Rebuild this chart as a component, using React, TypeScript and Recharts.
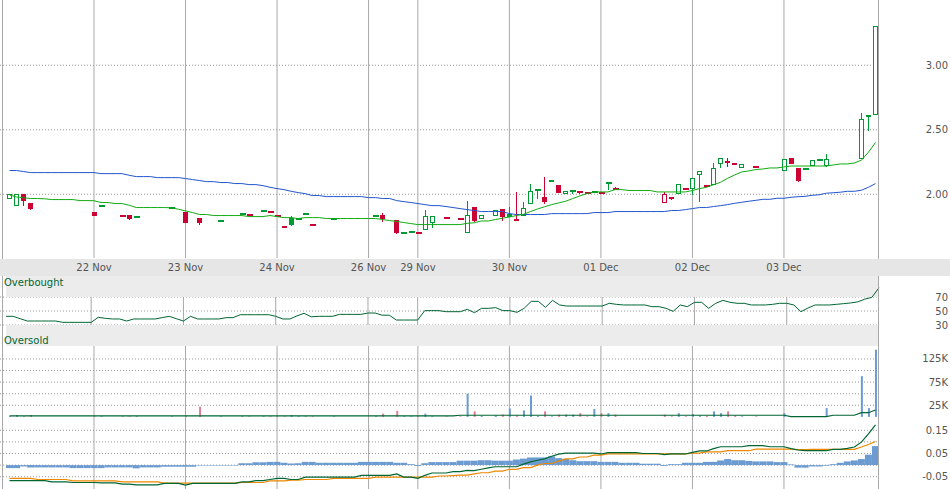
import { ComposedChart, Bar, Line, XAxis, YAxis, CartesianGrid, ReferenceArea, Cell } from "recharts";

const GREEN = "#009933";
const RED = "#cc0033";

// first bar of each session and its label
const dayStarts = [12, 25, 38, 51, 58, 71, 84, 97, 110];
const dayLabels = ["22 Nov", "23 Nov", "24 Nov", "26 Nov", "29 Nov", "30 Nov", "01 Dec", "02 Dec", "03 Dec"];

// [bar, open, high, low, close, volume] — bars with no trades are left out
const candles: [number, number, number, number, number, number][] = [
  [0, 1.967, 2.005, 1.967, 2.005, 1500],
  [1, 1.912, 2.005, 1.912, 2.005, 4000],
  [2, 2.0, 2.0, 1.91, 1.948, 1500],
  [3, 1.93, 1.93, 1.876, 1.884, 4000],
  [12, 1.86, 1.86, 1.83, 1.835, 1500],
  [13, 1.912, 1.912, 1.912, 1.912, 1500],
  [16, 1.835, 1.835, 1.835, 1.835, 1500],
  [17, 1.837, 1.837, 1.8, 1.809, 1500],
  [18, 1.827, 1.827, 1.827, 1.827, 1500],
  [23, 1.894, 1.894, 1.886, 1.886, 1500],
  [25, 1.859, 1.859, 1.778, 1.778, 1500],
  [27, 1.814, 1.814, 1.762, 1.776, 22000],
  [30, 1.796, 1.796, 1.796, 1.796, 1500],
  [33, 1.85, 1.85, 1.845, 1.845, 1500],
  [34, 1.842, 1.842, 1.842, 1.842, 1500],
  [36, 1.874, 1.874, 1.874, 1.874, 1500],
  [37, 1.866, 1.866, 1.866, 1.866, 1500],
  [38, 1.829, 1.829, 1.824, 1.824, 1500],
  [39, 1.74, 1.757, 1.74, 1.757, 1500],
  [40, 1.819, 1.828, 1.752, 1.762, 4000],
  [41, 1.808, 1.808, 1.798, 1.798, 1500],
  [42, 1.85, 1.85, 1.85, 1.85, 1500],
  [43, 1.765, 1.765, 1.765, 1.765, 1500],
  [46, 1.806, 1.806, 1.801, 1.801, 1500],
  [52, 1.835, 1.835, 1.835, 1.835, 1500],
  [53, 1.837, 1.853, 1.785, 1.806, 7000],
  [55, 1.798, 1.798, 1.692, 1.7, 13000],
  [56, 1.7, 1.705, 1.7, 1.7, 1500],
  [57, 1.705, 1.705, 1.705, 1.705, 1500],
  [58, 1.698, 1.698, 1.698, 1.698, 1500],
  [59, 1.723, 1.876, 1.723, 1.829, 7000],
  [60, 1.778, 1.835, 1.739, 1.835, 1500],
  [62, 1.814, 1.814, 1.814, 1.814, 1500],
  [64, 1.812, 1.812, 1.802, 1.812, 1500],
  [65, 1.703, 1.944, 1.703, 1.843, 50000],
  [66, 1.899, 1.899, 1.783, 1.793, 12000],
  [67, 1.812, 1.843, 1.812, 1.843, 2000],
  [69, 1.835, 1.878, 1.835, 1.878, 3000],
  [70, 1.884, 1.884, 1.793, 1.827, 5000],
  [71, 1.847, 1.902, 1.827, 1.827, 18000],
  [72, 1.793, 2.016, 1.793, 1.812, 3000],
  [73, 1.835, 1.938, 1.835, 1.897, 14000],
  [74, 1.928, 2.078, 1.928, 2.029, 46000],
  [75, 2.036, 2.036, 1.961, 2.036, 2000],
  [76, 1.977, 2.132, 1.925, 1.938, 12000],
  [77, 2.109, 2.109, 2.095, 2.095, 1500],
  [78, 2.07, 2.07, 2.01, 2.01, 5000],
  [79, 2.005, 2.029, 2.005, 2.029, 5000],
  [80, 2.029, 2.029, 2.002, 2.029, 5000],
  [81, 2.021, 2.021, 2.0, 2.021, 8000],
  [82, 2.01, 2.01, 2.01, 2.01, 1500],
  [83, 2.018, 2.018, 2.013, 2.018, 17000],
  [84, 2.013, 2.013, 2.013, 2.013, 8000],
  [85, 2.084, 2.084, 2.036, 2.076, 8000],
  [86, 2.044, 2.057, 2.044, 2.044, 5000],
  [93, 1.936, 2.018, 1.936, 2.0, 5000],
  [94, 1.982, 1.982, 1.956, 1.964, 1500],
  [95, 2.005, 2.077, 2.005, 2.077, 8000],
  [96, 2.044, 2.044, 2.044, 2.044, 1500],
  [97, 2.039, 2.129, 1.997, 2.129, 6000],
  [98, 2.146, 2.184, 1.94, 2.184, 3000],
  [99, 2.062, 2.062, 2.062, 2.062, 2000],
  [100, 2.075, 2.246, 2.075, 2.207, 12000],
  [101, 2.233, 2.284, 2.207, 2.284, 8000],
  [102, 2.258, 2.284, 2.212, 2.243, 12000],
  [103, 2.24, 2.245, 2.227, 2.227, 3000],
  [104, 2.207, 2.238, 2.207, 2.238, 1500],
  [106, 2.209, 2.209, 2.209, 2.209, 1500],
  [110, 2.184, 2.277, 2.184, 2.277, 8000],
  [111, 2.279, 2.279, 2.233, 2.233, 1500],
  [112, 2.202, 2.202, 2.093, 2.101, 1500],
  [113, 2.194, 2.2, 2.194, 2.194, 1500],
  [114, 2.222, 2.266, 2.222, 2.266, 1500],
  [115, 2.269, 2.277, 2.269, 2.269, 1500],
  [116, 2.221, 2.31, 2.212, 2.277, 19000],
  [121, 2.274, 2.628, 2.274, 2.587, 88000],
  [122, 2.618, 2.618, 2.488, 2.6, 19000],
  [123, 2.618, 3.302, 2.618, 3.302, 145000],
];

const maFast = [
  1.995, 1.979, 1.973, 1.967, 1.967, 1.965, 1.959, 1.959, 1.959, 1.959,
  1.951, 1.951, 1.95, 1.936, 1.936, 1.928, 1.928, 1.915, 1.897, 1.897,
  1.897, 1.897, 1.897, 1.895, 1.884, 1.871, 1.858, 1.843, 1.843, 1.835,
  1.835, 1.835, 1.835, 1.835, 1.827, 1.827, 1.827, 1.835, 1.827, 1.819,
  1.819, 1.812, 1.819, 1.819, 1.819, 1.812, 1.812, 1.812, 1.812, 1.812,
  1.812, 1.812, 1.812, 1.804, 1.796, 1.789, 1.781, 1.773, 1.765, 1.765,
  1.765, 1.765, 1.765, 1.765, 1.765, 1.775, 1.779, 1.793, 1.793, 1.804,
  1.814, 1.824, 1.835, 1.845, 1.866, 1.886, 1.903, 1.92, 1.933, 1.946,
  1.967, 1.987, 2.005, 2.018, 2.018, 2.018, 2.036, 2.036, 2.029, 2.029,
  2.029, 2.029, 2.018, 2.018, 2.018, 2.018, 2.018, 2.029, 2.044, 2.054,
  2.074, 2.093, 2.124, 2.15, 2.173, 2.181, 2.192, 2.196, 2.204, 2.204,
  2.212, 2.219, 2.219, 2.219, 2.219, 2.219, 2.219, 2.227, 2.235, 2.235,
  2.243, 2.264, 2.326, 2.401,
];

const maSlow = [
  2.184, 2.184, 2.176, 2.168, 2.168, 2.168, 2.168, 2.168, 2.168, 2.168,
  2.168, 2.168, 2.168, 2.16, 2.16, 2.16, 2.16, 2.147, 2.137, 2.137,
  2.137, 2.129, 2.129, 2.129, 2.129, 2.122, 2.114, 2.106, 2.098, 2.098,
  2.091, 2.091, 2.083, 2.083, 2.075, 2.075, 2.067, 2.054, 2.044, 2.036,
  2.023, 2.013, 2.005, 1.99, 1.99, 1.982, 1.982, 1.982, 1.982, 1.982,
  1.982, 1.974, 1.974, 1.967, 1.967, 1.951, 1.943, 1.936, 1.928, 1.92,
  1.912, 1.912, 1.905, 1.897, 1.889, 1.881, 1.874, 1.866, 1.866, 1.866,
  1.866, 1.85, 1.843, 1.843, 1.843, 1.843, 1.843, 1.85, 1.85, 1.85,
  1.85, 1.85, 1.85, 1.858, 1.858, 1.858, 1.866, 1.866, 1.866, 1.866,
  1.866, 1.866, 1.866, 1.866, 1.874, 1.874, 1.881, 1.889, 1.897, 1.897,
  1.905, 1.912, 1.92, 1.93, 1.938, 1.946, 1.953, 1.961, 1.961, 1.969,
  1.969, 1.977, 1.981, 1.984, 1.992, 1.996, 2.008, 2.012, 2.016, 2.023,
  2.023, 2.031, 2.054, 2.083,
];

const rsi = [
  42.4, 42.4, 39, 35.7, 35.7, 35.7, 35.7, 35.7, 33.8, 33.8,
  33.8, 33.8, 33.8, 41, 39.5, 38.6, 38.6, 35.7, 38.6, 38.6,
  38.6, 38.6, 40.5, 42.4, 39, 35.7, 42.4, 38.6, 38.6, 38.6,
  38.6, 40.5, 40.5, 44.7, 44.7, 44.7, 44.7, 44.7, 42.4, 38.6,
  38.6, 43, 46.7, 41.7, 42.4, 42.4, 42.4, 45.2, 45.2, 45.2,
  45.2, 47.1, 47.1, 44, 44, 37.1, 37.1, 37.1, 37.1, 50.5,
  50.5, 50.5, 49, 49, 49, 52.4, 47.6, 53.8, 53.8, 54.8,
  50.5, 50.5, 48.1, 53.8, 63.8, 63.8, 55.2, 65.2, 58.6, 57.1,
  57.1, 57.1, 57.1, 57.1, 57.1, 61, 59.5, 58.6, 58.6, 58.6,
  58.6, 56.2, 56.2, 53.8, 49.5, 58.6, 56.2, 62.4, 62.4, 53.8,
  61, 65.2, 62.4, 61, 61, 58.6, 58.6, 58.6, 59.5, 61,
  61, 58.6, 49, 54.3, 58.6, 58.6, 58.6, 59.5, 60.5, 61.5,
  63, 67, 69.5, 83.3,
];

const volAvg = [
  2000, 2000, 2000, 2000, 2000, 2000, 2000, 2000, 2000, 2000,
  2000, 2000, 2000, 2000, 2000, 2000, 2000, 2000, 2000, 2000,
  2000, 2000, 2000, 2000, 2000, 2000, 2000, 2000, 2000, 2000,
  2000, 2000, 2000, 2000, 2000, 2000, 2000, 2000, 2000, 2000,
  2000, 2000, 2000, 2000, 2000, 2000, 2000, 2000, 2000, 2000,
  2000, 2000, 2000, 2000, 2000, 2000, 2000, 2000, 2000, 2000,
  2000, 2000, 2000, 2000, 3500, 3500, 3500, 3500, 3500, 3500,
  3500, 3500, 3500, 3500, 3500, 3500, 3500, 3500, 3500, 3500,
  3500, 3500, 3500, 3500, 3500, 3500, 3500, 3500, 3500, 3500,
  3500, 3500, 3500, 3500, 3500, 3500, 3500, 3500, 3500, 3500,
  3500, 3500, 3500, 3500, 3500, 3500, 3500, 3500, 3500, 3500,
  3500, 500, 500, 500, 500, 500, 500, 3500, 3500, 3500,
  3500, 9000, 9000, 15000,
];

const macd = [
  -0.067, -0.067, -0.067, -0.067, -0.067, -0.067, -0.072, -0.072, -0.072, -0.075,
  -0.075, -0.075, -0.075, -0.077, -0.077, -0.077, -0.082, -0.082, -0.085, -0.085,
  -0.085, -0.085, -0.079, -0.079, -0.079, -0.086, -0.079, -0.079, -0.079, -0.079,
  -0.079, -0.079, -0.079, -0.072, -0.072, -0.067, -0.067, -0.062, -0.057, -0.057,
  -0.062, -0.062, -0.052, -0.052, -0.052, -0.052, -0.052, -0.052, -0.052, -0.052,
  -0.044, -0.044, -0.044, -0.044, -0.044, -0.038, -0.052, -0.052, -0.057, -0.044,
  -0.034, -0.034, -0.034, -0.028, -0.028, -0.023, -0.024, -0.018, -0.012, -0.007,
  -0.007, -0.007, -0.007, 0.004, 0.014, 0.021, 0.027, 0.038, 0.047, 0.052,
  0.052, 0.052, 0.052, 0.052, 0.048, 0.054, 0.054, 0.054, 0.054, 0.054,
  0.05, 0.05, 0.05, 0.045, 0.048, 0.048, 0.048, 0.055, 0.061, 0.061,
  0.071, 0.079, 0.079, 0.079, 0.079, 0.084, 0.084, 0.084, 0.079, 0.079,
  0.079, 0.071, 0.065, 0.062, 0.062, 0.062, 0.062, 0.068, 0.068, 0.072,
  0.078, 0.099, 0.135, 0.173,
];

const signal = [
  -0.057, -0.057, -0.057, -0.057, -0.062, -0.062, -0.062, -0.062, -0.062, -0.068,
  -0.068, -0.068, -0.068, -0.068, -0.068, -0.068, -0.072, -0.072, -0.072, -0.072,
  -0.072, -0.072, -0.078, -0.078, -0.078, -0.078, -0.078, -0.078, -0.078, -0.078,
  -0.078, -0.078, -0.078, -0.075, -0.075, -0.075, -0.075, -0.068, -0.068, -0.068,
  -0.065, -0.065, -0.062, -0.062, -0.062, -0.062, -0.057, -0.057, -0.057, -0.057,
  -0.057, -0.057, -0.052, -0.052, -0.052, -0.052, -0.052, -0.052, -0.052, -0.052,
  -0.052, -0.047, -0.047, -0.045, -0.043, -0.043, -0.038, -0.033, -0.033, -0.026,
  -0.026, -0.018, -0.018, -0.011, -0.011, 0, 0.007, 0.007, 0.017, 0.027,
  0.027, 0.035, 0.035, 0.043, 0.043, 0.048, 0.048, 0.048, 0.048, 0.048,
  0.048, 0.048, 0.048, 0.048, 0.048, 0.048, 0.048, 0.052, 0.052, 0.057,
  0.057, 0.057, 0.062, 0.062, 0.062, 0.062, 0.069, 0.069, 0.069, 0.069,
  0.069, 0.069, 0.067, 0.067, 0.068, 0.068, 0.068, 0.068, 0.068, 0.068,
  0.068, 0.078, 0.089, 0.102,
];

const histogram = [
  -0.013, -0.013, -0.006, -0.01, -0.01, -0.01, -0.01, -0.01, -0.01, -0.013,
  -0.013, -0.013, -0.013, -0.013, -0.01, -0.01, -0.01, -0.01, -0.014, -0.01,
  -0.01, -0.01, -0.007, -0.007, -0.007, -0.007, -0.007, -0.002, -0.002, -0.002,
  -0.002, -0.002, -0.002, 0.008, 0.008, 0.012, 0.012, 0.014, 0.014, 0.01,
  0.007, 0.008, 0.014, 0.014, 0.01, 0.01, 0.01, 0.01, 0.01, 0.01,
  0.014, 0.014, 0.014, 0.014, 0.014, 0.01, 0.01, 0.004, -0.004, 0.008,
  0.013, 0.013, 0.013, 0.013, 0.019, 0.019, 0.019, 0.021, 0.021, 0.019,
  0.019, 0.019, 0.024, 0.028, 0.033, 0.033, 0.033, 0.038, 0.03, 0.027,
  0.021, 0.017, 0.017, 0.017, 0.014, 0.014, 0.014, 0.01, 0.01, 0.01,
  0.006, 0.006, 0.006, -0.004, 0.004, 0.004, 0.01, 0.01, 0.01, 0.014,
  0.014, 0.02, 0.026, 0.021, 0.021, 0.018, 0.016, 0.016, 0.016, 0.013,
  0.013, 0.003, -0.011, -0.011, -0.006, -0.006, -0.003, 0.004, 0.01, 0.016,
  0.02, 0.026, 0.045, 0.082,
];

type Row = {
  bar: number;
  open: number | null;
  high: number | null;
  low: number | null;
  close: number | null;
  vol: number | null;
  up: boolean;
  maFast: number;
  maSlow: number;
  rsi: number;
  volAvg: number;
  macd: number;
  signal: number;
  hist: number;
};

const rows: Row[] = maFast.map((v, i) => ({
  bar: i,
  open: null,
  high: null,
  low: null,
  close: null,
  vol: null,
  up: true,
  maFast: v,
  maSlow: maSlow[i],
  rsi: rsi[i],
  volAvg: volAvg[i],
  macd: macd[i],
  signal: signal[i],
  hist: histogram[i],
}));

// colour follows the previous traded close
let prevClose: number | null = null;
for (const [bar, o, h, l, c, v] of candles) {
  const r = rows[bar];
  r.open = o;
  r.high = h;
  r.low = l;
  r.close = c;
  r.vol = v;
  r.up = prevClose == null || c >= prevClose;
  prevClose = c;
}

const FONT = "DejaVu Sans";
const LABEL = "#555";

function Candle(props: any) {
  const { x, y, width, height, payload } = props;
  if (!payload || payload.high == null) return null;
  const { open, high, low, close, up } = payload;
  const color = up ? GREEN : RED;
  const c = Math.floor(x + width / 2);
  const span = high - low;
  const at = (p: number) => Math.round(span > 0 ? y + ((high - p) / span) * height : y);
  const yH = at(high);
  const yL = at(low);
  const top = Math.min(at(open), at(close));
  const bot = Math.max(at(open), at(close));
  return (
    <g shapeRendering="crispEdges">
      {yL > yH && <line x1={c + 0.5} x2={c + 0.5} y1={yH} y2={yL} stroke={color} />}
      {bot - top < 2 ? (
        <rect x={c - 2} y={top - 1} width={6} height={2} fill={color} />
      ) : close > open ? (
        <rect x={c - 1.5} y={top + 0.5} width={4} height={bot - top - 1} fill="#fff" stroke={color} />
      ) : (
        <rect x={c - 2} y={top} width={5} height={bot - top} fill={color} />
      )}
    </g>
  );
}

const rightTick = (fmt: (v: number) => string) => (props: any) => {
  const s = fmt(props.payload.value);
  if (!s) return <g />;
  return (
    <text x={948} y={props.y} dy={3.5} textAnchor="end" fontSize={10} fontFamily={FONT} fill={LABEL}>
      {s}
    </text>
  );
};

const DayTick = (props: any) => {
  const k = dayStarts.indexOf(props.payload.value);
  return (
    <text x={props.x} y={props.y} dy={12.5} textAnchor="middle" fontSize={10} fontFamily={FONT} fill={LABEL}>
      {k >= 0 ? dayLabels[k] : ""}
    </text>
  );
};

const xPad = { left: 6, right: 0 };
const noMargin = { top: 0, right: 0, bottom: 0, left: 0 };
const pos = (top: number): React.CSSProperties => ({ position: "absolute", left: 0, top });

function HiddenX() {
  return <XAxis dataKey="bar" hide padding={xPad} ticks={dayStarts} interval={0} />;
}

function Grids() {
  return [
    <CartesianGrid key="h" vertical={false} stroke="#9a9a9a" strokeDasharray="1 2" syncWithTicks />,
    <CartesianGrid key="v" horizontal={false} stroke="#a8a8a8" syncWithTicks />,
  ];
}

export default function App() {
  return (
    <div style={{ position: "absolute", left: 0, top: 0, width: 950, height: 489, background: "#fff", overflow: "hidden", fontFamily: FONT }}>
      <div style={{ position: "absolute", left: 0, top: 259, width: 950, height: 17, background: "#e6e6e6" }} />

      {/* price */}
      <div style={pos(0)}>
        <ComposedChart width={950} height={276} data={rows} margin={noMargin}>
          {Grids()}
          <XAxis
            dataKey="bar"
            padding={xPad}
            ticks={dayStarts}
            interval={0}
            height={18}
            axisLine={false}
            tickLine={false}
            tickSize={0}
            tickMargin={0}
            tick={<DayTick />}
          />
          <YAxis
            orientation="right"
            width={71}
            domain={[1.506, 3.506]}
            ticks={[2, 2.5, 3]}
            interval={0}
            axisLine={false}
            tickLine={false}
            tickSize={0}
            tickMargin={0}
            tick={rightTick((v) => v.toFixed(2))}
          />
          <Line dataKey="maSlow" stroke="#2255cc" strokeWidth={1} dot={false} activeDot={false} isAnimationActive={false} />
          <Line dataKey="maFast" stroke="#11aa11" strokeWidth={1} dot={false} activeDot={false} isAnimationActive={false} />
          <Bar
            dataKey={(d: Row) => (d.high == null ? null : [d.low, d.high])}
            shape={<Candle />}
            isAnimationActive={false}
          />
        </ComposedChart>
      </div>

      {/* RSI */}
      <div style={pos(276)}>
        <ComposedChart width={950} height={70} data={rows} margin={noMargin}>
          <ReferenceArea y1={70} y2={100} fill="#ececec" fillOpacity={1} stroke="none" />
          <ReferenceArea y1={0} y2={30} fill="#ececec" fillOpacity={1} stroke="none" />
          {Grids()}
          {HiddenX()}
          <YAxis
            orientation="right"
            width={71}
            domain={[0, 100]}
            ticks={[30, 50, 70]}
            interval={0}
            axisLine={false}
            tickLine={false}
            tickSize={0}
            tickMargin={0}
            tick={rightTick((v) => String(v))}
          />
          <Line dataKey="rsi" stroke="#006633" strokeWidth={1} dot={false} activeDot={false} isAnimationActive={false} />
        </ComposedChart>
      </div>

      {/* volume */}
      <div style={pos(346)}>
        <ComposedChart width={950} height={72} data={rows} margin={noMargin}>
          {Grids()}
          {HiddenX()}
          <YAxis
            orientation="right"
            width={71}
            domain={[-2400, 153000]}
            ticks={[25000, 50000, 75000, 100000, 125000]}
            interval={0}
            axisLine={false}
            tickLine={false}
            tickSize={0}
            tickMargin={0}
            tick={rightTick((v) => (v % 50000 === 25000 ? `${v / 1000}K` : ""))}
          />
          <Bar dataKey="vol" barSize={2} isAnimationActive={false}>
            {rows.map((r) => (
              <Cell key={r.bar} fill={r.up ? "#6b9bd1" : "#e27d98"} />
            ))}
          </Bar>
          <Line dataKey="volAvg" stroke="#006633" strokeWidth={1.2} dot={false} activeDot={false} isAnimationActive={false} />
        </ComposedChart>
      </div>

      {/* MACD */}
      <div style={pos(418)}>
        <ComposedChart width={950} height={71} data={rows} margin={noMargin} barCategoryGap={0}>
          {Grids()}
          {HiddenX()}
          <YAxis
            orientation="right"
            width={71}
            domain={[-0.103, 0.203]}
            ticks={[-0.05, 0, 0.05, 0.1, 0.15]}
            interval={0}
            axisLine={false}
            tickLine={false}
            tickSize={0}
            tickMargin={0}
            tick={rightTick((v) => (Math.abs(v) < 1e-9 || Math.abs(v - 0.1) < 1e-9 ? "" : v.toFixed(2)))}
          />
          <Bar dataKey="hist" fill="#6b9bd1" isAnimationActive={false} />
          <Line dataKey="signal" stroke="#ee8800" strokeWidth={1.2} dot={false} activeDot={false} isAnimationActive={false} />
          <Line dataKey="macd" stroke="#006633" strokeWidth={1.2} dot={false} activeDot={false} isAnimationActive={false} />
        </ComposedChart>
      </div>

      {/* frame */}
      <div style={{ position: "absolute", left: 2, top: 0, width: 1, height: 259, background: "#a8a8a8" }} />
      <div style={{ position: "absolute", left: 2, top: 276, width: 1, height: 213, background: "#a8a8a8" }} />
      <div style={{ position: "absolute", left: 878, top: 0, width: 1, height: 259, background: "#a8a8a8" }} />
      <div style={{ position: "absolute", left: 878, top: 276, width: 1, height: 213, background: "#a8a8a8" }} />

      <div style={{ position: "absolute", left: 4, top: 276, fontSize: 10, color: "#006633", lineHeight: "14px" }}>Overbought</div>
      <div style={{ position: "absolute", left: 4, top: 334, fontSize: 10, color: "#006633", lineHeight: "14px" }}>Oversold</div>
    </div>
  );
}
